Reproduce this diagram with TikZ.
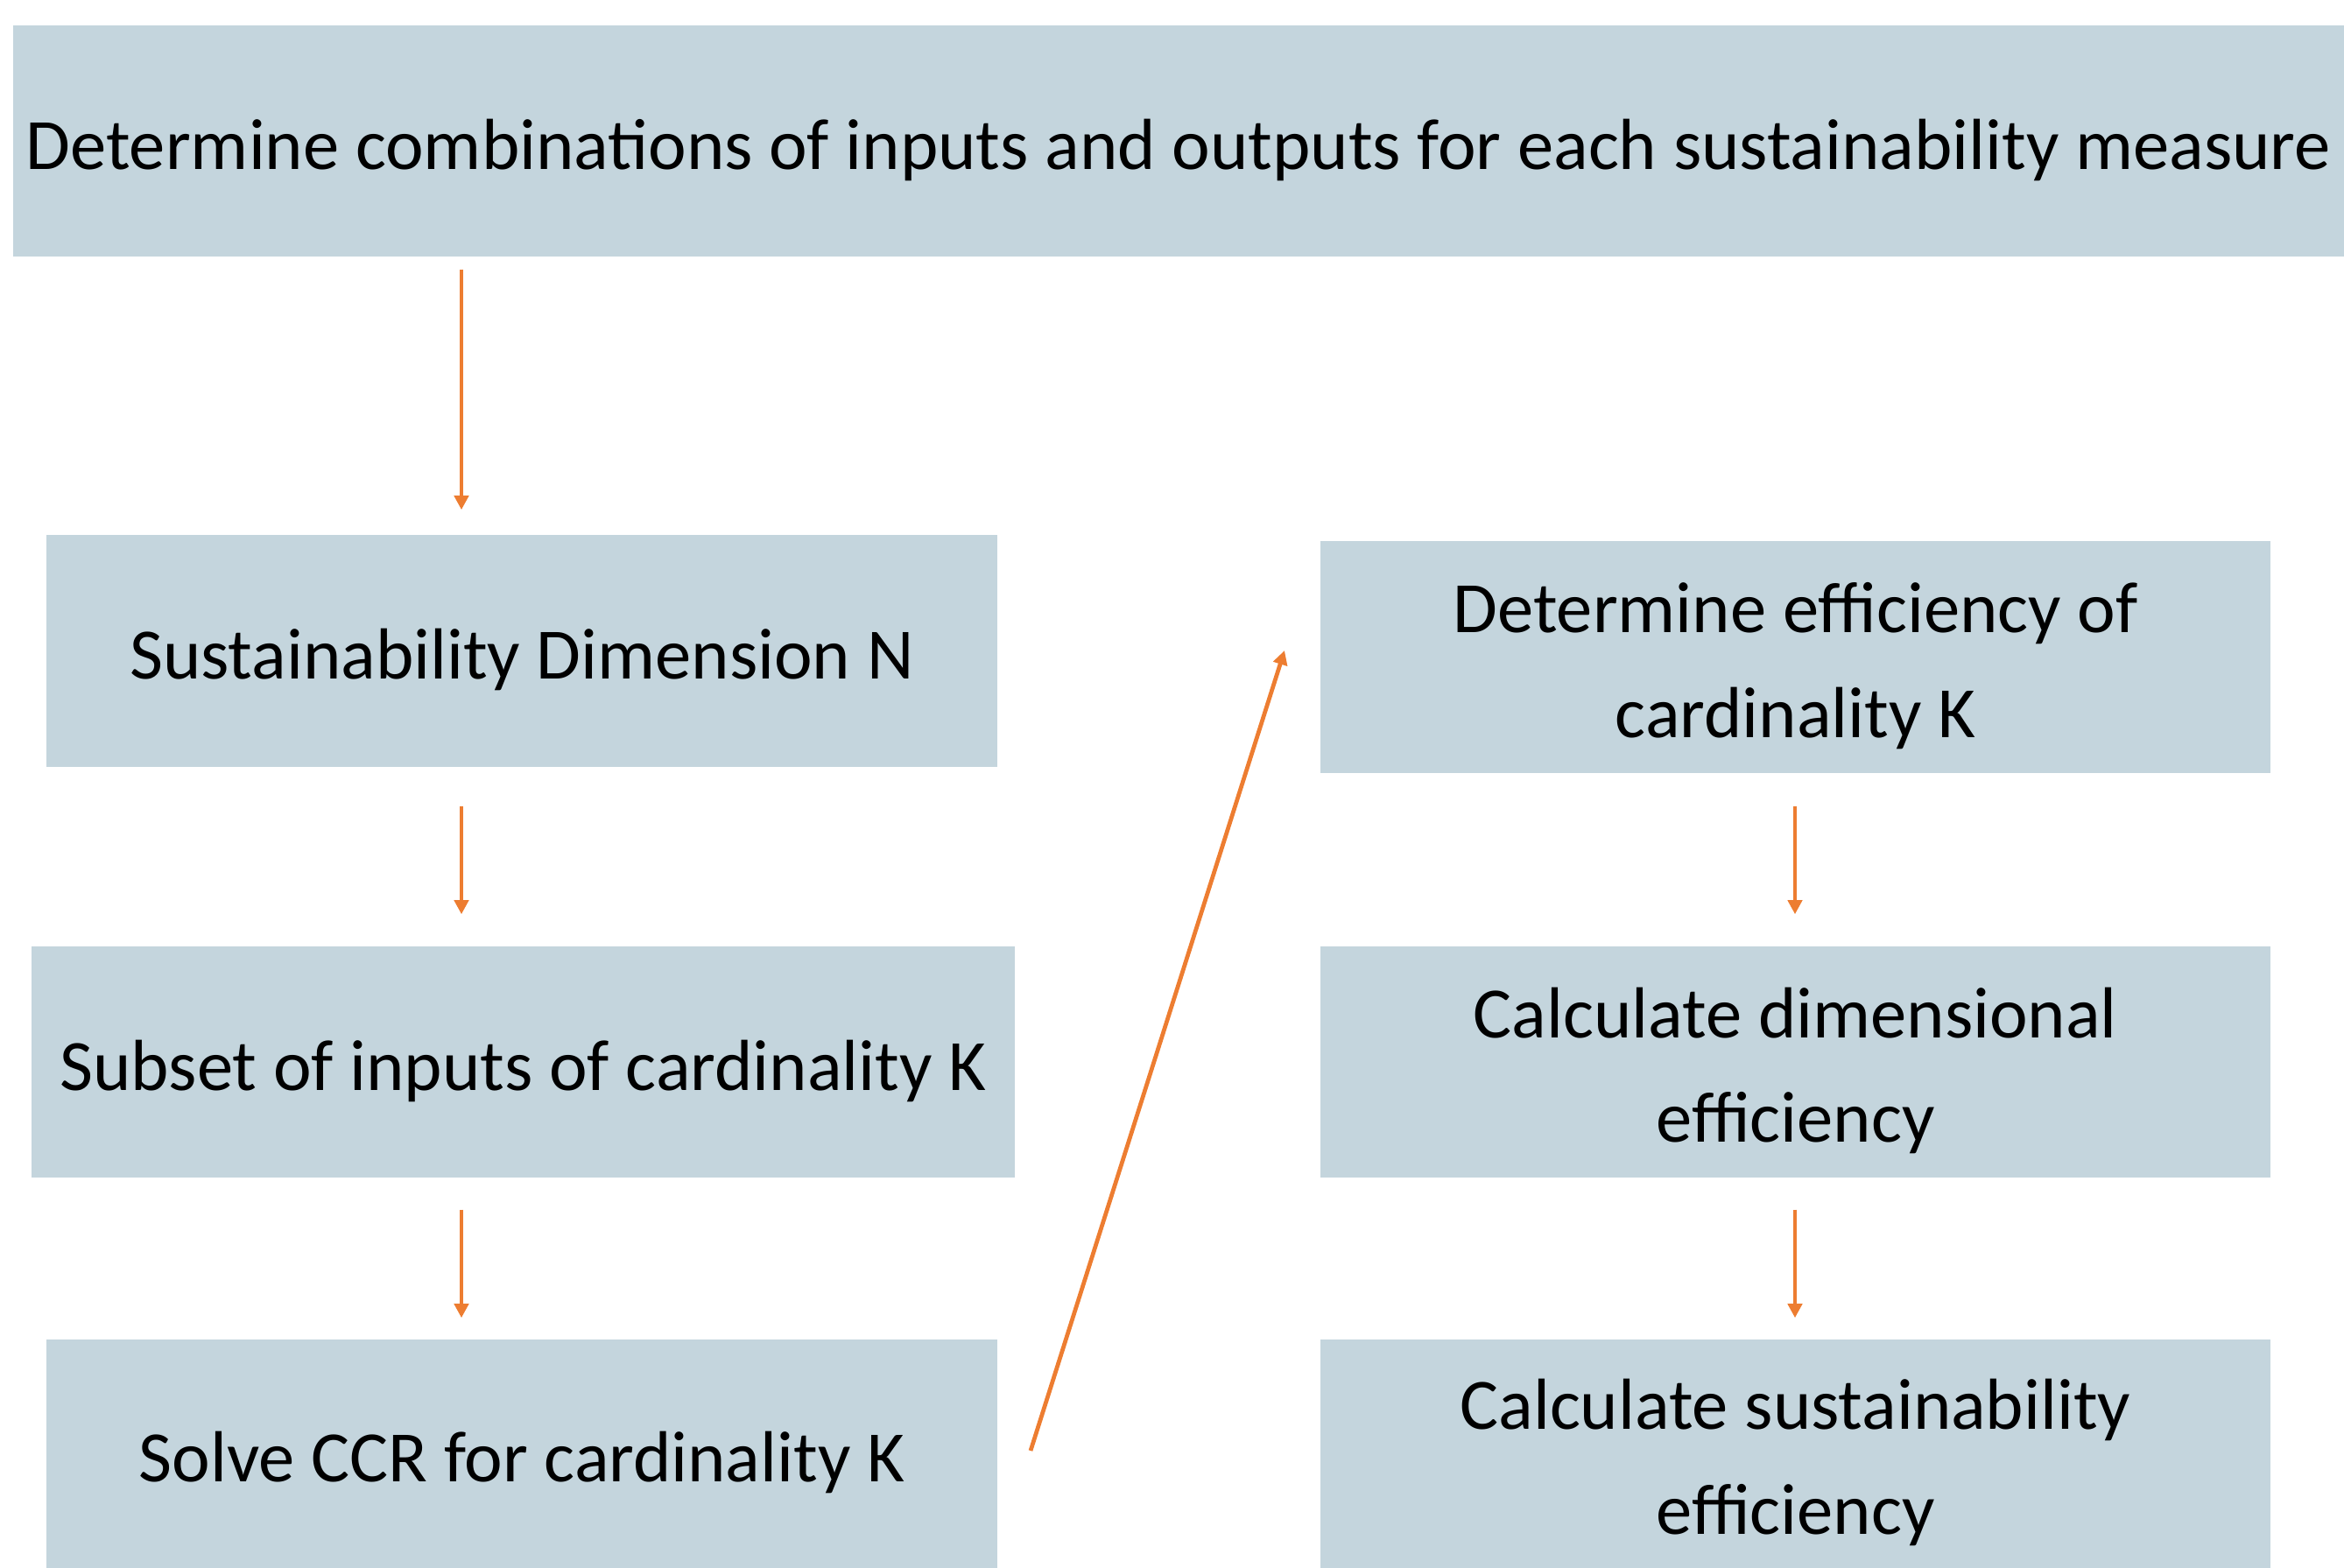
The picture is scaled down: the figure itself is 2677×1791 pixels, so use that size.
\documentclass[tikz,border=0pt]{standalone}
\usepackage{fontspec}
\setmainfont{Carlito}
\usetikzlibrary{arrows.meta}
\definecolor{boxfill}{RGB}{196,213,221}
\definecolor{flow}{RGB}{237,125,49}
\begin{document}
\begin{tikzpicture}[x=0.01cm,y=-0.01cm,
  stepbox/.style={fill=boxfill, draw=none, inner sep=0pt},
  steptext/.style={align=center, inner sep=0pt, yshift=-0.1cm,
    font=\fontsize{23.5}{34}\selectfont, text=black},
  arr/.style={draw=flow, line width=1.35pt,
    -{Triangle[width=4.6pt,length=4.6pt]}}]
  \useasboundingbox (0,0) rectangle (2677,1791);
  % process boxes (pixel-sized), text set slightly below centre
  \node[stepbox, minimum width=2662*0.01cm, minimum height=264*0.01cm,
    label={[steptext]center:Determine combinations of inputs and outputs for each sustainability measure}] (top) at (1346,161) {};
  \node[stepbox, minimum width=1086*0.01cm, minimum height=265*0.01cm,
    label={[steptext]center:Sustainability Dimension N}] (sdn) at (596,743.5) {};
  \node[stepbox, minimum width=1123*0.01cm, minimum height=264*0.01cm,
    label={[steptext]center:Subset of inputs of cardinality K}] (sub) at (597.5,1213) {};
  \node[stepbox, minimum width=1086*0.01cm, minimum height=261*0.01cm,
    label={[steptext]center:Solve CCR for cardinality K}] (ccr) at (596,1660.5) {};
  \node[stepbox, minimum width=1085*0.01cm, minimum height=265*0.01cm,
    label={[steptext]center:{Determine efficiency of\\cardinality K}}] (eff) at (2050.5,750.5) {};
  \node[stepbox, minimum width=1085*0.01cm, minimum height=264*0.01cm,
    label={[steptext]center:{Calculate dimensional\\efficiency}}] (dim) at (2050.5,1213) {};
  \node[stepbox, minimum width=1085*0.01cm, minimum height=261*0.01cm,
    label={[steptext]center:{Calculate sustainability\\efficiency}}] (sus) at (2050.5,1660.5) {};
  % connector guides
  \coordinate (lx) at (527,0);
  \coordinate (rx) at (2050,0);
  \coordinate (dstart) at (1177,1657);
  \coordinate (dend) at (1467,743);
  % connectors
  \draw[arr, shorten <=0.14cm, shorten >=0.28cm] (top.south -| lx) -- (sdn.north -| lx);
  \draw[arr, shorten <=0.44cm, shorten >=0.36cm] (sdn.south -| lx) -- (sub.north -| lx);
  \draw[arr, shorten <=0.36cm, shorten >=0.24cm] (sub.south -| lx) -- (ccr.north -| lx);
  \draw[arr] (dstart) -- (dend);
  \draw[arr, shorten <=0.37cm, shorten >=0.36cm] (eff.south -| rx) -- (dim.north -| rx);
  \draw[arr, shorten <=0.36cm, shorten >=0.24cm] (dim.south -| rx) -- (sus.north -| rx);
\end{tikzpicture}
\end{document}
